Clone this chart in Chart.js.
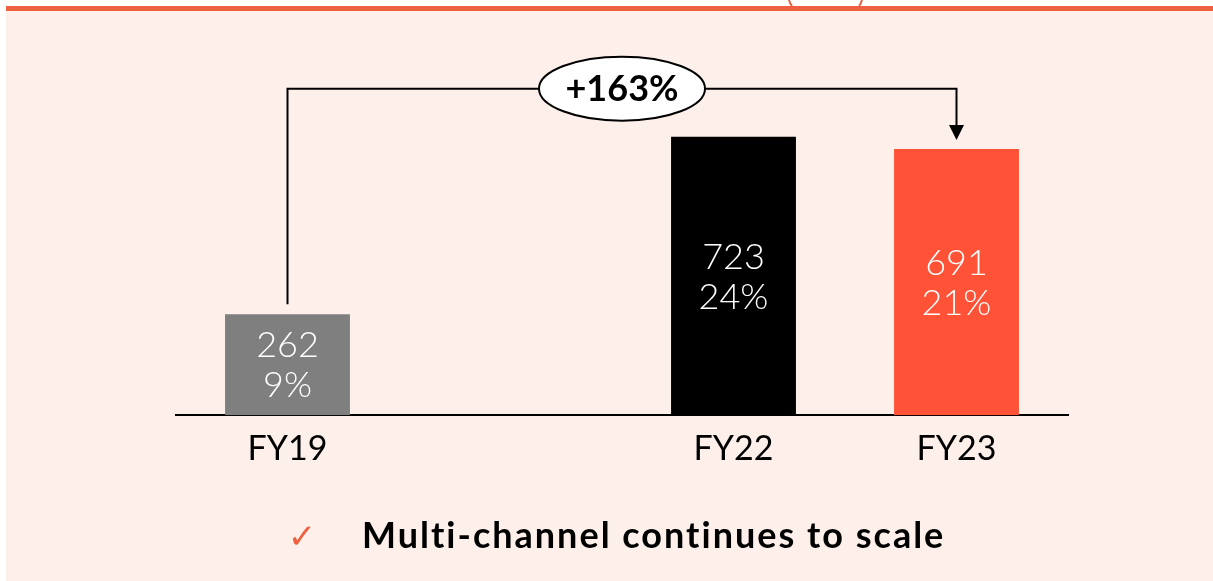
<!DOCTYPE html>
<html>
<head>
<meta charset="utf-8">
<script src="https://cdn.jsdelivr.net/npm/chart.js@4/dist/chart.umd.min.js"></script>
<style>
  html, body { margin: 0; padding: 0; background: #fff; }
  canvas { display: block; }
</style>
</head>
<body>
<canvas id="myChart" width="1213" height="581"></canvas>
<script>
let years = ['FY19', '', 'FY22', 'FY23'];
let values = [262, null, 723, 691];
let shares = ['9%', '', '24%', '21%'];
let barColors = ['#7f7f7f', '#7f7f7f', '#000000', '#ff5236'];
let growthText = '+163%';
let footText = 'Multi-channel continues to scale';

let pink = '#fdefea';
let orange = '#ef6040';

// background, top rule and the little cut-off brackets
let backdrop = {
    id: 'backdrop',
    beforeDraw(chart) {
        let ctx = chart.ctx;
        ctx.save();
        ctx.fillStyle = '#fff';
        ctx.fillRect(0, 0, chart.width, chart.height);
        ctx.fillStyle = pink;
        ctx.fillRect(6, 11, chart.width - 6, chart.height - 11);
        ctx.fillStyle = orange;
        ctx.fillRect(6, 6, chart.width - 6, 5);
        ctx.strokeStyle = orange;
        ctx.lineWidth = 2;
        ctx.beginPath();
        ctx.moveTo(789, 0);
        ctx.quadraticCurveTo(790, 4, 792, 6);
        ctx.moveTo(862, 0);
        ctx.quadraticCurveTo(861, 4, 859, 6);
        ctx.stroke();
        ctx.restore();
    }
};

// two-line labels inside the bars
let barLabels = {
    id: 'barLabels',
    afterDatasetsDraw(chart) {
        let ctx = chart.ctx;
        let meta = chart.getDatasetMeta(0);
        ctx.save();
        ctx.fillStyle = '#fff';
        ctx.font = '300 36px Lato, "Open Sans", sans-serif';
        ctx.textAlign = 'center';
        ctx.textBaseline = 'middle';
        meta.data.forEach((bar, i) => {
            if (values[i] == null) return;
            let mid = (bar.y + bar.base) / 2;
            ctx.fillText(String(values[i]), bar.x, mid - 19);
            ctx.fillText(shares[i], bar.x, mid + 21);
        });
        ctx.restore();
    }
};

// growth bracket from FY19 to FY23, plus footer
let bracket = {
    id: 'bracket',
    afterDraw(chart) {
        let ctx = chart.ctx;
        let meta = chart.getDatasetMeta(0);
        let first = meta.data[0];
        let last = meta.data[3];
        let topY = meta.data[2].y - 48;
        let x1 = first.x, x2 = last.x;
        ctx.save();
        ctx.strokeStyle = '#000';
        ctx.lineWidth = 2;
        ctx.beginPath();
        ctx.moveTo(x1, first.y - 10);
        ctx.lineTo(x1, topY);
        ctx.lineTo(x2, topY);
        ctx.lineTo(x2, last.y - 20);
        ctx.stroke();
        ctx.fillStyle = '#000';
        ctx.beginPath();
        ctx.moveTo(x2 - 7.5, last.y - 24);
        ctx.lineTo(x2 + 7.5, last.y - 24);
        ctx.lineTo(x2, last.y - 9);
        ctx.closePath();
        ctx.fill();

        let cx = (x1 + x2) / 2;
        ctx.beginPath();
        ctx.ellipse(cx, topY, 83, 32, 0, 0, Math.PI * 2);
        ctx.fillStyle = '#fff';
        ctx.fill();
        ctx.stroke();
        ctx.fillStyle = '#000';
        ctx.font = 'bold 36px Lato, "Open Sans", sans-serif';
        ctx.textAlign = 'center';
        ctx.textBaseline = 'middle';
        ctx.fillText(growthText, cx, topY + 1, 116);

        ctx.fillStyle = '#000';
        ctx.font = 'bold 36px Lato, "Open Sans", sans-serif';
        ctx.letterSpacing = '2px';
        ctx.textAlign = 'left';
        ctx.textBaseline = 'middle';
        ctx.fillText(footText, 362, 536, 586);
        ctx.letterSpacing = '0px';
        ctx.fillStyle = orange;
        ctx.font = '34px "DejaVu Sans", sans-serif';
        ctx.textAlign = 'center';
        ctx.fillText('\u2713', 302, 539);
        ctx.restore();
    }
};

let ctx1 = document.getElementById('myChart').getContext('2d');

let chart1 = new Chart(ctx1, {
    type: 'bar',
    data: {
        labels: years,
        datasets: [{
            data: values,
            backgroundColor: barColors,
            barPercentage: 0.56,
            categoryPercentage: 1
        }]
    },
    options: {
        responsive: false,
        animation: false,
        layout: {
            padding: { left: 176, right: 145, top: 107, bottom: 99 }
        },
        plugins: {
            legend: { display: false },
            tooltip: { enabled: false }
        },
        scales: {
            x: {
                grid: { display: false, drawTicks: false },
                border: { display: true, color: '#000', width: 2 },
                ticks: {
                    color: '#000',
                    padding: 13,
                    font: { family: 'Lato, "Open Sans", sans-serif', size: 34 }
                }
            },
            y: {
                display: false,
                min: 0,
                max: 800
            }
        }
    },
    plugins: [backdrop, barLabels, bracket]
});
</script>
</body>
</html>
